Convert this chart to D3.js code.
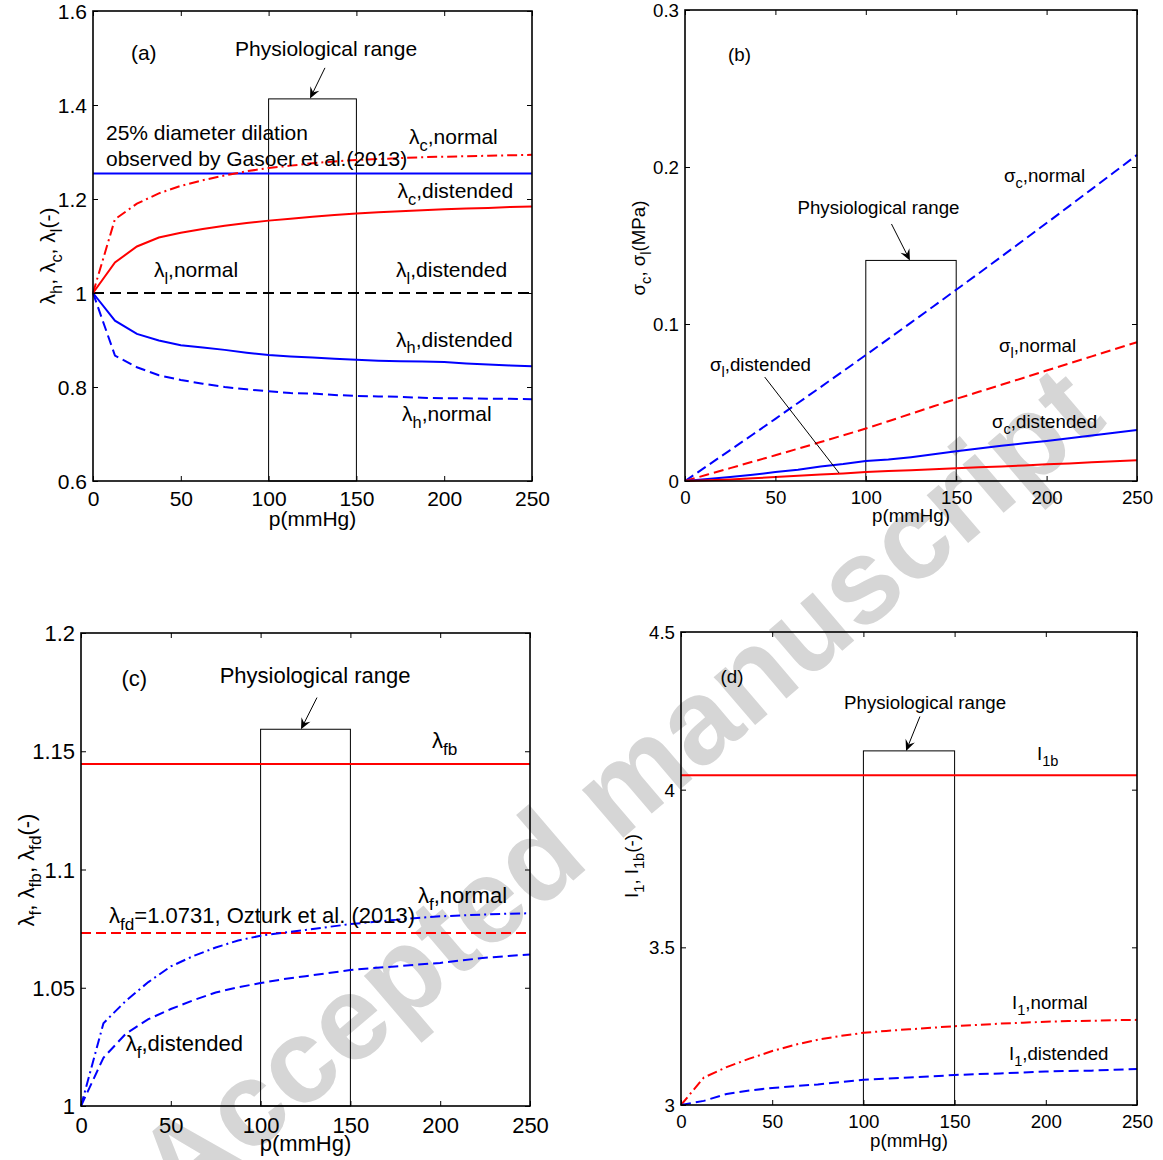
<!DOCTYPE html>
<html>
<head>
<meta charset="utf-8">
<script src="https://cdn.jsdelivr.net/npm/d3@7"></script>
<style>
  html, body { margin: 0; padding: 0; background: #fff; }
  svg { display: block; font-family: "Liberation Sans", Arial, Helvetica, sans-serif; }
</style>
</head>
<body>
<svg id="fig" width="1163" height="1160"></svg>
<script>
// Pressure samples (mmHg) shared by every curve
const pressure = [0, 12.5, 25, 37.5, 50, 62.5, 75, 87.5, 100, 112.5, 125, 137.5, 150,
                  162.5, 175, 187.5, 200, 212.5, 225, 237.5, 250];
const refPressure = [0, 250];
const physioRange = [100, 150];
const xTicks = [0, 50, 100, 150, 200, 250];

// (a) stretch ratios
const lambdaCNormal    = [1.000, 1.157, 1.190, 1.212, 1.228, 1.240, 1.250, 1.259, 1.266, 1.271, 1.276,
                          1.280, 1.283, 1.285, 1.287, 1.289, 1.290, 1.291, 1.292, 1.293, 1.294];
const lambdaCDistended = [1.000, 1.065, 1.099, 1.118, 1.128, 1.136, 1.143, 1.149, 1.154, 1.158, 1.162,
                          1.166, 1.169, 1.172, 1.174, 1.176, 1.178, 1.180, 1.181, 1.183, 1.184];
const lambdaHDistended = [1.000, 0.941, 0.913, 0.899, 0.889, 0.884, 0.879, 0.873, 0.868, 0.865, 0.863,
                          0.860, 0.858, 0.856, 0.855, 0.854, 0.853, 0.850, 0.848, 0.846, 0.844];
const lambdaHNormal    = [1.000, 0.867, 0.842, 0.825, 0.815, 0.807, 0.800, 0.795, 0.791, 0.787, 0.786,
                          0.783, 0.781, 0.780, 0.779, 0.777, 0.776, 0.776, 0.775, 0.775, 0.774];
const lambdaL          = [1.0, 1.0];
const dilationRef      = [1.254, 1.254];
const yTicksA = [0.6, 0.8, 1.0, 1.2, 1.4, 1.6];
const rangeTopA = 1.413;

// (b) stresses (MPa)
const sigmaCNormal    = [0, 0.0098, 0.0197, 0.0296, 0.0396, 0.0497, 0.0598, 0.0700, 0.0802, 0.0905, 0.1009,
                         0.1113, 0.1218, 0.1323, 0.1429, 0.1536, 0.1643, 0.1751, 0.1859, 0.1968, 0.2077];
const sigmaLNormal    = [0, 0.0041, 0.0082, 0.0123, 0.0164, 0.0206, 0.0248, 0.0291, 0.0334, 0.0381, 0.0428,
                         0.0476, 0.0523, 0.0568, 0.0613, 0.0658, 0.0704, 0.0749, 0.0794, 0.0839, 0.0884];
const sigmaCDistended = [0, 0.0012, 0.0025, 0.0040, 0.0057, 0.0072, 0.0093, 0.0108, 0.0127, 0.0137, 0.0152,
                         0.0170, 0.0189, 0.0207, 0.0225, 0.0240, 0.0255, 0.0272, 0.0290, 0.0307, 0.0325];
const sigmaLDistended = [0, 0.0005, 0.0010, 0.0017, 0.0025, 0.0033, 0.0041, 0.0048, 0.0057, 0.0063, 0.0069,
                         0.0075, 0.0081, 0.0087, 0.0093, 0.0099, 0.0106, 0.0112, 0.0119, 0.0126, 0.0132];
const yTicksB = [0, 0.1, 0.2, 0.3];
const rangeTopB = 0.1405;

// (c) fibre stretches
const lambdaFNormal    = [1.000, 1.0350, 1.0445, 1.0524, 1.0590, 1.0634, 1.0670, 1.0700, 1.0720, 1.0733, 1.0744,
                          1.0757, 1.0769, 1.0778, 1.0787, 1.0795, 1.0802, 1.0806, 1.0810, 1.0813, 1.0815];
const lambdaFDistended = [1.000, 1.0204, 1.0306, 1.0367, 1.0410, 1.0447, 1.0480, 1.0502, 1.0520, 1.0536, 1.0549,
                          1.0562, 1.0575, 1.0583, 1.0590, 1.0598, 1.0605, 1.0616, 1.0627, 1.0634, 1.0641];
const lambdaFB = [1.1446, 1.1446];
const lambdaFD = [1.0731, 1.0731];
const yTicksC = [1, 1.05, 1.1, 1.15, 1.2];
const rangeTopC = 1.1593;

// (d) first invariant
const i1Normal    = [3.000, 3.087, 3.120, 3.147, 3.171, 3.191, 3.207, 3.219, 3.229, 3.235, 3.240,
                     3.245, 3.250, 3.254, 3.258, 3.261, 3.264, 3.266, 3.267, 3.269, 3.270];
const i1Distended = [3.000, 3.013, 3.035, 3.046, 3.054, 3.060, 3.065, 3.073, 3.080, 3.084, 3.087,
                     3.091, 3.095, 3.098, 3.100, 3.103, 3.106, 3.108, 3.109, 3.112, 3.114];
const i1b = [4.046, 4.046];
const yTicksD = [3, 3.5, 4, 4.5];
const rangeTopD = 4.123;

const RED = "#ff0000", BLUE = "#0000ff", BLACK = "#000000";
const DASH = "10,5", DASHDOT = "10,4,2,4", DASH_K = "11,6";

const svg = d3.select("#fig");

// Faint diagonal watermark behind the panels
svg.append("text")
  .attr("transform", "translate(624,795) rotate(-40.5)")
  .attr("text-anchor", "middle")
  .attr("y", 32)
  .attr("font-size", 120)
  .attr("font-weight", "bold")
  .attr("fill", "#d6d6d6")
  .text("Accepted manuscript");

// Text with "_"-prefixed parts drawn as subscripts
function addRich(g, x, y, parts, fs, opts = {}) {
  const t = g.append("text").attr("x", x).attr("y", y)
    .attr("font-size", fs).attr("fill", "#000");
  if (opts.anchor) t.attr("text-anchor", opts.anchor);
  if (opts.transform) t.attr("transform", opts.transform);
  const off = fs * 0.32;
  let shift = 0;
  parts.forEach(p => {
    const sub = p.startsWith("_");
    const s = t.append("tspan").text(sub ? p.slice(1) : p);
    const target = sub ? off : 0;
    if (target !== shift) { s.attr("dy", target - shift); shift = target; }
    if (sub) s.attr("font-size", fs * 0.78);
  });
  return t;
}

function arrow(g, x1, y1, x2, y2) {
  const a = Math.atan2(y2 - y1, x2 - x1);
  const ux = Math.cos(a), uy = Math.sin(a), nx = -uy, ny = ux;
  const L = 11, W = 5, N = 7;
  g.append("line").attr("x1", x1).attr("y1", y1)
    .attr("x2", x2 - N * ux).attr("y2", y2 - N * uy)
    .attr("stroke", BLACK).attr("stroke-width", 1);
  const pts = [
    [x2, y2],
    [x2 - L * ux + W * nx, y2 - L * uy + W * ny],
    [x2 - N * ux, y2 - N * uy],
    [x2 - L * ux - W * nx, y2 - L * uy - W * ny]
  ];
  g.append("path").attr("d", "M" + pts.map(p => p.join(",")).join("L") + "Z").attr("fill", BLACK);
}

function drawPanel(cfg) {
  const { box, fs } = cfg;
  const x = d3.scaleLinear().domain([0, 250]).range([box.l, box.r]);
  const y = d3.scaleLinear().domain(cfg.yDomain).range([box.b, box.t]);
  const g = svg.append("g");

  // physiological-range box
  g.append("rect")
    .attr("x", x(physioRange[0])).attr("y", y(cfg.rangeTop))
    .attr("width", x(physioRange[1]) - x(physioRange[0]))
    .attr("height", y(cfg.yDomain[0]) - y(cfg.rangeTop))
    .attr("fill", "none").attr("stroke", BLACK).attr("stroke-width", 1);

  // curves
  const line = d3.line().x(d => x(d[0])).y(d => y(d[1]));
  cfg.series.forEach(s => {
    const pts = s.x.map((v, i) => [v, s.y[i]]);
    g.append("path").attr("d", line(pts))
      .attr("fill", "none").attr("stroke", s.color)
      .attr("stroke-width", s.width || 2)
      .attr("stroke-dasharray", s.dash || null);
  });

  // axes: ticks inside on all four sides
  const ax = g.append("g").attr("font-size", fs);
  const plain = sel => sel.attr("font-size", null).attr("font-family", null);
  const bottom = ax.append("g").attr("transform", `translate(0,${box.b})`)
    .call(d3.axisBottom(x).tickValues(xTicks).tickSize(-5).tickSizeOuter(0).tickFormat(d3.format("~g")))
    .call(plain);
  bottom.selectAll("text").attr("y", cfg.xTickOffset).attr("dy", "0.71em");
  ax.append("g").attr("transform", `translate(0,${box.t})`)
    .call(d3.axisTop(x).tickValues(xTicks).tickSize(-5).tickSizeOuter(0).tickFormat(""))
    .call(plain);
  const left = ax.append("g").attr("transform", `translate(${box.l},0)`)
    .call(d3.axisLeft(y).tickValues(cfg.yTicks).tickSize(-5).tickSizeOuter(0).tickFormat(d3.format("~g")))
    .call(plain);
  left.selectAll("text").attr("x", -6).attr("dy", "0.35em");
  ax.append("g").attr("transform", `translate(${box.r},0)`)
    .call(d3.axisRight(y).tickValues(cfg.yTicks).tickSize(-5).tickSizeOuter(0).tickFormat(""))
    .call(plain);
  ax.selectAll(".domain").remove();
  ax.selectAll(".tick line").attr("stroke", BLACK).attr("stroke-width", 1);
  ax.selectAll("text").attr("fill", BLACK);

  g.append("rect").attr("x", box.l).attr("y", box.t)
    .attr("width", box.r - box.l).attr("height", box.b - box.t)
    .attr("fill", "none").attr("stroke", BLACK).attr("stroke-width", 1.6);

  // axis titles
  g.append("text").attr("x", (box.l + box.r) / 2).attr("y", cfg.xLabelY)
    .attr("text-anchor", "middle").attr("font-size", fs).text("p(mmHg)");
  addRich(g, 0, 0, cfg.yLabel.parts, fs,
    { anchor: "middle", transform: `translate(${cfg.yLabel.x},${cfg.yLabel.y}) rotate(-90)` });

  // annotations
  cfg.labels.forEach(l => addRich(g, x(l.x), y(l.y), l.parts, fs));
  cfg.arrows.forEach(a => arrow(g, x(a[0]), y(a[1]), x(a[2]), y(a[3])));
  (cfg.leaders || []).forEach(a => g.append("line")
    .attr("x1", x(a[0])).attr("y1", y(a[1])).attr("x2", x(a[2])).attr("y2", y(a[3]))
    .attr("stroke", BLACK).attr("stroke-width", 1));
}

// (a)
drawPanel({
  box: { l: 93, r: 532, t: 11, b: 481 }, fs: 21,
  yDomain: [0.6, 1.6], yTicks: yTicksA, rangeTop: rangeTopA,
  xTickOffset: 10, xLabelY: 526,
  yLabel: { x: 55, y: 256, parts: ["λ", "_h", ", λ", "_c", ", λ", "_l", "(-)"] },
  series: [
    { x: refPressure, y: lambdaL, color: BLACK, dash: DASH_K },
    { x: refPressure, y: dilationRef, color: BLUE },
    { x: pressure, y: lambdaCNormal, color: RED, dash: DASHDOT },
    { x: pressure, y: lambdaCDistended, color: RED },
    { x: pressure, y: lambdaHDistended, color: BLUE },
    { x: pressure, y: lambdaHNormal, color: BLUE, dash: DASH }
  ],
  labels: [
    { x: 21.6, y: 1.496, parts: ["(a)"] },
    { x: 80.9, y: 1.504, parts: ["Physiological range"] },
    { x: 7.4, y: 1.3245, parts: ["25% diameter dilation"] },
    { x: 7.4, y: 1.271, parts: ["observed by Gasoer et al.(2013)"] },
    { x: 180, y: 1.317, parts: ["λ", "_c", ",normal"] },
    { x: 173.4, y: 1.202, parts: ["λ", "_c", ",distended"] },
    { x: 34.7, y: 1.033, parts: ["λ", "_l", ",normal"] },
    { x: 172.6, y: 1.033, parts: ["λ", "_l", ",distended"] },
    { x: 172.6, y: 0.886, parts: ["λ", "_h", ",distended"] },
    { x: 176, y: 0.728, parts: ["λ", "_h", ",normal"] }
  ],
  arrows: [[132.1, 1.479, 123.6, 1.414]]
});

// (b)
drawPanel({
  box: { l: 685, r: 1137, t: 10, b: 481 }, fs: 18.7,
  yDomain: [0, 0.3], yTicks: yTicksB, rangeTop: rangeTopB,
  xTickOffset: 9.5, xLabelY: 522,
  yLabel: { x: 645, y: 248, parts: ["σ", "_c", ", σ", "_l", "(MPa)"] },
  series: [
    { x: pressure, y: sigmaCNormal, color: BLUE, dash: DASH },
    { x: pressure, y: sigmaLNormal, color: RED, dash: DASH },
    { x: pressure, y: sigmaCDistended, color: BLUE },
    { x: pressure, y: sigmaLDistended, color: RED }
  ],
  labels: [
    { x: 23.8, y: 0.2675, parts: ["(b)"] },
    { x: 62.2, y: 0.1702, parts: ["Physiological range"] },
    { x: 176.4, y: 0.1906, parts: ["σ", "_c", ",normal"] },
    { x: 173.7, y: 0.0819, parts: ["σ", "_l", ",normal"] },
    { x: 13.8, y: 0.0698, parts: ["σ", "_l", ",distended"] },
    { x: 169.8, y: 0.0340, parts: ["σ", "_c", ",distended"] }
  ],
  arrows: [[114.2, 0.1637, 124.4, 0.1405]],
  leaders: [[44.1, 0.0662, 85.2, 0.0051]]
});

// (c)
drawPanel({
  box: { l: 81, r: 530, t: 633, b: 1106 }, fs: 22,
  yDomain: [1.0, 1.2], yTicks: yTicksC, rangeTop: rangeTopC,
  xTickOffset: 11, xLabelY: 1151,
  yLabel: { x: 34, y: 870, parts: ["λ", "_f", ", λ", "_fb", ", λ", "_fd", "(-)"] },
  series: [
    { x: refPressure, y: lambdaFB, color: RED },
    { x: refPressure, y: lambdaFD, color: RED, dash: DASH },
    { x: pressure, y: lambdaFNormal, color: BLUE, dash: DASHDOT },
    { x: pressure, y: lambdaFDistended, color: BLUE, dash: DASH }
  ],
  labels: [
    { x: 22.5, y: 1.1776, parts: ["(c)"] },
    { x: 77.2, y: 1.1789, parts: ["Physiological range"] },
    { x: 195.4, y: 1.1515, parts: ["λ", "_fb"] },
    { x: 187.6, y: 1.0858, parts: ["λ", "_f", ",normal"] },
    { x: 15.6, y: 1.0772, parts: ["λ", "_fd", "=1.0731, Ozturk et al. (2013)"] },
    { x: 24.9, y: 1.0233, parts: ["λ", "_f", ",distended"] }
  ],
  arrows: [[131.4, 1.1727, 122.5, 1.1593]]
});

// (d)
drawPanel({
  box: { l: 681, r: 1137, t: 632, b: 1105 }, fs: 18.7,
  yDomain: [3.0, 4.5], yTicks: yTicksD, rangeTop: rangeTopD,
  xTickOffset: 9.5, xLabelY: 1147,
  yLabel: { x: 638, y: 866, parts: ["I", "_1", ", I", "_1b", "(-)"] },
  series: [
    { x: refPressure, y: i1b, color: RED },
    { x: pressure, y: i1Normal, color: RED, dash: DASHDOT },
    { x: pressure, y: i1Distended, color: BLUE, dash: DASH }
  ],
  labels: [
    { x: 21.7, y: 4.338, parts: ["(d)"] },
    { x: 89.4, y: 4.256, parts: ["Physiological range"] },
    { x: 195.2, y: 4.095, parts: ["I", "_1b"] },
    { x: 181.5, y: 3.304, parts: ["I", "_1", ",normal"] },
    { x: 179.8, y: 3.144, parts: ["I", "_1", ",distended"] }
  ],
  arrows: [[131, 4.232, 123.4, 4.123]]
});
</script>
</body>
</html>
